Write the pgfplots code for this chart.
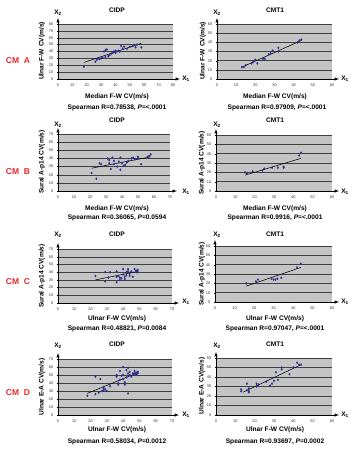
\documentclass[border=0pt]{standalone}
\usepackage{fontspec}
\setmainfont{Liberation Sans}
\usepackage{pgfplots}
\pgfplotsset{compat=1.18}
\definecolor{dotblue}{RGB}{45,45,150}
\definecolor{cmred}{RGB}{230,40,40}
\definecolor{panelgrey}{RGB}{196,196,196}
\pgfplotsset{
  panel/.style={
    scale only axis, anchor=south west,
    axis background/.style={fill=panelgrey},
    axis x line=bottom, axis y line=left,
    x axis line style={-latex, shorten >=-7pt, line width=0.5pt},
    y axis line style={-latex, shorten >=-6pt, line width=0.5pt},
    ymajorgrids, grid style={black!75, line width=0.35pt},
    tick style={black, line width=0.3pt}, major tick length=1.2pt, tick align=outside,
    enlargelimits=false,
    tick label style={font=\fontsize{3.9}{4}\selectfont, text=black!80},
    /pgf/number format/assume math mode=true,
    xticklabel style={yshift=-0.5pt},
  },
  dots/.style={only marks, mark=diamond*, mark size=1.0pt, color=dotblue},
  fit/.style={black, line width=0.55pt, no marks},
}
\newcommand{\ttl}[1]{\fontsize{6.6}{7}\selectfont\bfseries #1}
\newcommand{\spear}[2]{\fontsize{6.6}{7}\selectfont\bfseries Spearman R=#1,\ \textit{P}=#2}
\begin{document}
\begin{tikzpicture}
\path[use as bounding box] (0,0) rectangle (352pt,-450pt);

% ---------- row A ----------
\begin{axis}[panel, at={(58pt,-79pt)}, width=115pt, height=55pt,
  xmin=0, xmax=80, ymin=0, ymax=80, xtick={0,10,...,80}, ytick={0,10,...,80}]
\addplot[dots] coordinates {
 (18,18) (26,25) (27,28) (28,30) (30,30) (32,40) (33,32) (33,42) (34,43) (35,33)
 (36,35) (38,38) (39,40) (40,38) (41,40) (42,41) (43,40) (44,48) (45,44) (46,47)
 (48,44) (50,47) (52,48) (54,46) (55,50) (58,46) (37,37) (40,41) (29,29) (31,31)};
\addplot[fit] coordinates {(18,24) (58,52)};
\end{axis}

\begin{axis}[panel, at={(217pt,-79pt)}, width=115pt, height=55pt,
  xmin=0, xmax=60, ymin=0, ymax=60, xtick={0,10,...,60}, ytick={0,10,...,60}]
\addplot[dots] coordinates {
 (13,13) (14,13) (15,15) (18,17) (19,19) (20,21) (21,17) (24,22) (25,22) (27,27)
 (28,28) (29,31) (32,30) (32,34) (42,40) (43,42) (44,43)};
\addplot[fit] coordinates {(13,13) (44,42)};
\end{axis}

% ---------- row B ----------
\begin{axis}[panel, at={(58pt,-191pt)}, width=112pt, height=57pt,
  xmin=0, xmax=70, ymin=0, ymax=70, xtick={0,10,...,70}, ytick={0,10,...,70}]
\addplot[dots] coordinates {
 (21,22) (24,15) (26,34) (27,33) (31,40) (32,38) (32,34) (33,27) (34,41) (35,37)
 (35,33) (37,30) (38,36) (39,26) (39,41) (40,34) (41,31) (42,32) (43,35) (44,37)
 (46,40) (47,41) (48,39) (50,40) (50,42) (52,33) (56,42) (57,43) (58,45)};
\addplot[fit] coordinates {(21,28) (58,42)};
\end{axis}

\begin{axis}[panel, at={(216pt,-191pt)}, width=116pt, height=56pt,
  xmin=0, xmax=60, ymin=0, ymax=60, xtick={0,10,...,60}, ytick={0,10,...,60}]
\addplot[dots] coordinates {
 (15,20) (16,19) (19,21) (24,22) (25,24) (29,25) (32,25) (35,25) (35,26) (43,38) (44,41)};
\addplot[fit] coordinates {(15,17) (44,35)};
\end{axis}

% ---------- row C ----------
\begin{axis}[panel, at={(58pt,-303pt)}, width=114pt, height=54pt,
  xmin=0, xmax=70, ymin=0, ymax=70, xtick={0,10,...,70}, ytick={0,10,...,70}]
\addplot[dots] coordinates {
 (23,35) (29,40) (29,28) (31,33) (32,40) (36,41) (36,27) (36,34) (37,35) (38,33)
 (38,30) (39,32) (40,44) (40,37) (41,34) (41,31) (42,36) (42,40) (43,44) (43,41)
 (44,38) (44,35) (45,41) (46,34) (47,44) (48,42) (48,40) (49,40) (49,43)};
\addplot[fit] coordinates {(23,30) (49,41)};
\end{axis}

\begin{axis}[panel, at={(215pt,-302pt)}, width=117pt, height=56pt,
  xmin=0, xmax=60, ymin=0, ymax=60, xtick={0,10,...,60}, ytick={0,10,...,60}]
\addplot[dots] coordinates {
 (16,20) (21,22) (22,24) (29,25) (30,24) (31,24) (32,25) (34,26) (42,37) (44,41)};
\addplot[fit] coordinates {(16,17) (44,37)};
\end{axis}

% ---------- row D ----------
\begin{axis}[panel, at={(58pt,-415pt)}, width=114pt, height=56pt,
  xmin=0, xmax=70, ymin=0, ymax=70, xtick={0,10,...,70}, ytick={0,10,...,70}]
\addplot[dots] coordinates {
 (18,24) (23,26) (23,48) (25,28) (26,45) (27,30) (28,31) (28,33) (28,35) (29,32)
 (30,30) (32,36) (36,48) (36,50) (37,38) (37,40) (38,55) (38,44) (39,49) (40,60)
 (40,50) (40,45) (41,41) (41,38) (42,47) (42,56) (43,59) (43,52) (43,27) (44,50)
 (44,54) (45,48) (46,52) (47,55) (47,52) (48,53) (48,51) (49,54) (49,52) (48,50)};
\addplot[fit] coordinates {(18,27) (49,53)};
\end{axis}

\begin{axis}[panel, at={(216pt,-415pt)}, width=116pt, height=57pt,
  xmin=0, xmax=60, ymin=0, ymax=60, xtick={0,10,...,60}, ytick={0,10,...,60}]
\addplot[dots] coordinates {
 (13,27) (13,25) (16,33) (16,26) (17,28) (17,25) (17,24) (21,30) (21,33) (22,32)
 (26,35) (28,31) (29,33) (30,36) (31,45) (32,37) (34,48) (34,50) (38,43) (40,50)
 (42,55) (43,53) (44,53)};
\addplot[fit] coordinates {(14,24) (44,53)};
\end{axis}

% ---------- titles, labels and statistics ----------
\node at (117pt,-10pt) {\ttl{CIDP}};
\node at (275pt,-10pt) {\ttl{CMT1}};
\node at (117pt,-120pt) {\ttl{CIDP}};
\node at (275pt,-120pt) {\ttl{CMT1}};
\node at (117pt,-234pt) {\ttl{CIDP}};
\node at (275pt,-234pt) {\ttl{CMT1}};
\node at (117pt,-344pt) {\ttl{CIDP}};
\node at (275pt,-344pt) {\ttl{CMT1}};

\node at (117pt,-97pt) {\ttl{Median F-W CV(m/s)}};
\node at (275pt,-97pt) {\ttl{Median F-W CV(m/s)}};
\node at (117pt,-209pt) {\ttl{Median F-W CV(m/s)}};
\node at (275pt,-209pt) {\ttl{Median F-W CV(m/s)}};
\node at (117pt,-319pt) {\ttl{Ulnar F-W CV(m/s)}};
\node at (275pt,-319pt) {\ttl{Ulnar F-W CV(m/s)}};
\node at (117pt,-430pt) {\ttl{Ulnar F-W CV(m/s)}};
\node at (275pt,-430pt) {\ttl{Ulnar F-W CV(m/s)}};

\node at (117pt,-108pt) {\spear{0.78538}{<.0001}};
\node at (277pt,-108pt) {\spear{0.97909}{<.0001}};
\node at (117pt,-218pt) {\spear{0.36065}{0.0594}};
\node at (275pt,-218pt) {\spear{0.9916}{<.0001}};
\node at (117pt,-329pt) {\spear{0.48821}{0.0084}};
\node at (275pt,-329pt) {\spear{0.97047}{<.0001}};
\node at (117pt,-442pt) {\spear{0.58034}{0.0012}};
\node at (275pt,-442pt) {\spear{0.93697}{0.0002}};

\node[rotate=90] at (42pt,-51pt) {\ttl{Ulnar F-W CV(m/s)}};
\node[rotate=90] at (203pt,-51pt) {\ttl{Ulnar F-W CV(m/s)}};
\node[rotate=90] at (42pt,-162pt) {\ttl{Sural A-p14 CV(m/s)}};
\node[rotate=90] at (202pt,-163pt) {\ttl{Sural A-p14 CV(m/s)}};
\node[rotate=90] at (42pt,-276pt) {\ttl{Sural A-p14 CV(m/s)}};
\node[rotate=90] at (202pt,-274pt) {\ttl{Sural A-p14 CV(m/s)}};
\node[rotate=90] at (42pt,-387pt) {\ttl{Ulnar E-A CV(m/s)}};
\node[rotate=90] at (202pt,-386pt) {\ttl{Ulnar E-A CV(m/s)}};

% axis names at the arrow tips
\foreach \yy in {13,125,235,346}{
  \node at (58pt,-\yy pt) {\fontsize{6.6}{7}\selectfont\bfseries X\textsubscript{2}};
  \node at (217pt,-\yy pt) {\fontsize{6.6}{7}\selectfont\bfseries X\textsubscript{2}};
}
\foreach \yy in {79,192,302,415}{
  \node at (186pt,-\yy pt) {\fontsize{6.6}{7}\selectfont\bfseries X\textsubscript{1}};
  \node at (345pt,-\yy pt) {\fontsize{6.6}{7}\selectfont\bfseries X\textsubscript{1}};
}

% group labels
\node[text=cmred] at (18pt,-61pt) {\fontsize{8.5}{9}\selectfont\bfseries CM\ \ A};
\node[text=cmred] at (18pt,-172pt) {\fontsize{8.5}{9}\selectfont\bfseries CM\ \ B};
\node[text=cmred] at (18pt,-282pt) {\fontsize{8.5}{9}\selectfont\bfseries CM\ \ C};
\node[text=cmred] at (18pt,-393pt) {\fontsize{8.5}{9}\selectfont\bfseries CM\ \ D};
\end{tikzpicture}
\end{document}
